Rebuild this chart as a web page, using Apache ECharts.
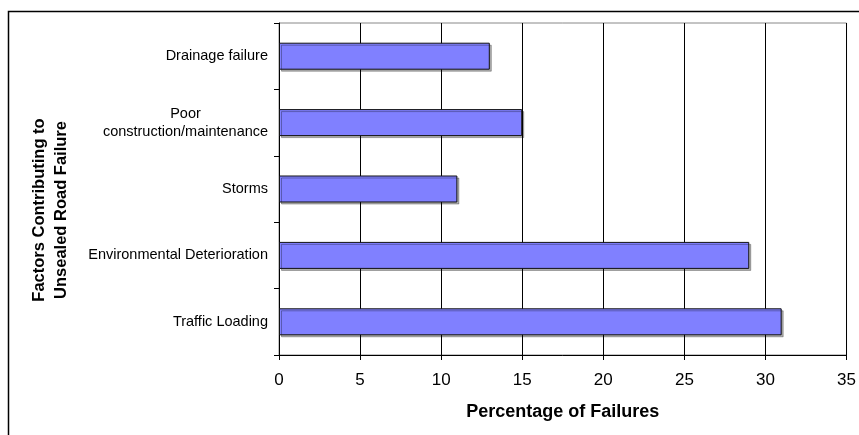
<!DOCTYPE html>
<html>
<head>
<meta charset="utf-8">
<script src="https://cdn.jsdelivr.net/npm/echarts@6/dist/echarts.min.js"></script>
<style>
  html, body { margin: 0; padding: 0; background: #fff; }
  #main { width: 859px; height: 435px; }
</style>
</head>
<body>
<div id="main"></div>
<script>
// factors, top to bottom
var categories = ['Drainage failure', 'Poor\nconstruction/maintenance', 'Storms', 'Environmental Deterioration', 'Traffic Loading'];
var failures = [13, 15, 11, 29, 31];
var xTicks = { min: 0, max: 35, step: 5 };

var chart = echarts.init(document.getElementById('main'));
var font = '"Liberation Sans", Arial, sans-serif';

chart.setOption({
  backgroundColor: '#fff',
  animation: false,
  grid: {
    left: 279, right: 11, top: 23, bottom: 80,
    show: true, borderColor: '#888', borderWidth: 1
  },
  graphic: [
    {
      type: 'rect', z: -1, silent: true,
      shape: { x: 8.5, y: 11.5, width: 900, height: 500 },
      style: { fill: 'none', stroke: '#000', lineWidth: 1.5 }
    },
    {
      type: 'text', x: 50, y: 210, rotation: Math.PI / 2,
      style: {
        text: 'Factors Contributing to\nUnsealed Road Failure',
        font: 'bold 16.5px ' + font, fill: '#000',
        align: 'center', verticalAlign: 'middle', lineHeight: 22
      }
    }
  ],
  xAxis: {
    type: 'value',
    min: xTicks.min, max: xTicks.max, interval: xTicks.step,
    name: 'Percentage of Failures',
    nameLocation: 'middle', nameGap: 48,
    nameTextStyle: { fontFamily: font, fontWeight: 'bold', fontSize: 18, color: '#000' },
    axisLine: { show: true, lineStyle: { color: '#000', width: 1 } },
    axisTick: { show: true, length: 5, lineStyle: { color: '#000' } },
    axisLabel: { fontFamily: font, fontSize: 17, color: '#000', margin: 17 },
    splitLine: { show: true, lineStyle: { color: '#000', width: 1 } }
  },
  yAxis: {
    type: 'category',
    inverse: true,
    data: categories,
    axisLine: { show: true, lineStyle: { color: '#000', width: 1 } },
    axisTick: { show: true, length: 5, lineStyle: { color: '#000' } },
    axisLabel: {
      fontFamily: font, fontSize: 14.5, color: '#000', margin: 11, lineHeight: 18,
      formatter: function (v) {
        if (v.indexOf('\n') < 0) return v;
        return v.split('\n').map(function (s) { return '{c|' + s + '}'; }).join('\n');
      },
      rich: {
        c: { fontFamily: font, fontSize: 14.5, color: '#000', width: 165, align: 'center', lineHeight: 18 }
      }
    }
  },
  series: [{
    type: 'bar',
    data: failures,
    barWidth: 27,
    itemStyle: {
      color: '#8080FF',
      borderColor: '#111',
      borderWidth: 1,
      shadowColor: 'rgba(0,0,0,0.3)',
      shadowOffsetX: 2,
      shadowOffsetY: 2,
      shadowBlur: 0
    }
  }]
});
</script>
</body>
</html>
